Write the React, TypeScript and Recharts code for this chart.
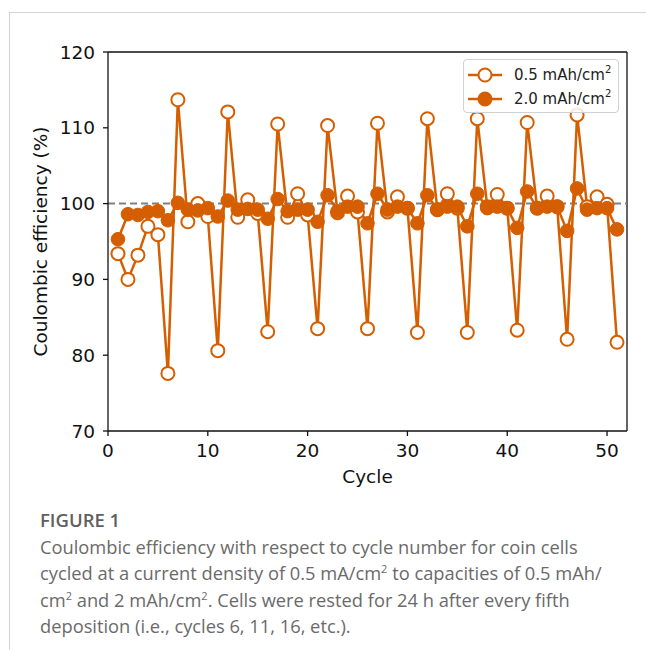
import React from "react";
import {
  LineChart,
  Line,
  XAxis,
  YAxis,
  ReferenceLine,
  Legend,
} from "recharts";

const ORANGE = "#d55e00";

const cycles = [
  1, 2, 3, 4, 5, 6, 7, 8, 9, 10, 11, 12, 13, 14, 15, 16, 17, 18, 19, 20, 21, 22,
  23, 24, 25, 26, 27, 28, 29, 30, 31, 32, 33, 34, 35, 36, 37, 38, 39, 40, 41,
  42, 43, 44, 45, 46, 47, 48, 49, 50, 51,
];

// 0.5 mAh/cm2 (open markers)
const ceLow = [
  93.4, 90.0, 93.2, 97.0, 95.9, 77.6, 113.7, 97.6, 100.0, 98.3, 80.6, 112.1,
  98.2, 100.5, 98.7, 83.1, 110.5, 98.2, 101.3, 98.5, 83.5, 110.3, 98.8, 101.0,
  98.9, 83.5, 110.6, 98.9, 100.9, 99.4, 83.0, 111.2, 99.2, 101.3, 99.4, 83.0,
  111.2, 99.6, 101.2, 99.4, 83.3, 110.7, 99.4, 101.0, 99.6, 82.1, 111.7, 99.6,
  100.9, 99.9, 81.7,
];

// 2.0 mAh/cm2 (filled markers)
const ceHigh = [
  95.3, 98.6, 98.5, 98.9, 99.0, 97.8, 100.1, 99.2, 99.1, 99.4, 98.3, 100.4,
  99.2, 99.3, 99.2, 98.0, 100.6, 99.0, 99.2, 99.2, 97.6, 101.1, 99.0, 99.6,
  99.6, 97.4, 101.3, 99.2, 99.6, 99.4, 97.4, 101.1, 99.2, 99.6, 99.6, 97.0,
  101.3, 99.4, 99.6, 99.4, 96.8, 101.6, 99.4, 99.6, 99.6, 96.4, 102.0, 99.2,
  99.4, 99.4, 96.6,
];

const xTicks = [0, 10, 20, 30, 40, 50];
const yTicks = [70, 80, 90, 100, 110, 120];
const xMax = 52;
const yMin = 70;
const yMax = 120;

const legendNames = ["0.5 mAh/cm", "2.0 mAh/cm"];

const data = cycles.map((c, i) => ({ cycle: c, low: ceLow[i], high: ceHigh[i] }));

const FONT = "DejaVu Sans";
const CAPTION_FONT = "Open Sans";
const FS = 18.5;

function LegendBox() {
  return (
    <div
      style={{
        border: "1px solid #d0d0d0",
        borderRadius: 4,
        background: "rgba(255,255,255,0.85)",
        width: 156,
        height: 54,
        boxSizing: "border-box",
        paddingTop: 3,
        fontFamily: FONT,
        fontSize: 15,
        color: "#222",
      }}
    >
      {legendNames.map((name, i) => (
        <div
          key={name}
          style={{ display: "flex", alignItems: "center", height: 24 }}
        >
          <svg width={42} height={20} style={{ marginLeft: 4 }}>
            <line x1={0} y1={10} x2={34} y2={10} stroke={ORANGE} strokeWidth={2.5} />
            <circle
              cx={17}
              cy={10}
              r={6.5}
              fill={i === 0 ? "#fff" : ORANGE}
              stroke={ORANGE}
              strokeWidth={2}
            />
          </svg>
          <span style={{ marginLeft: 4 }}>
            {name}
            <sup style={{ fontSize: 10, verticalAlign: "7px", lineHeight: 0 }}>2</sup>
          </span>
        </div>
      ))}
    </div>
  );
}

function YLabel(props: any) {
  const vb = props.viewBox || { x: 0, y: 0, width: 0, height: 0 };
  const cy = vb.y + vb.height / 2;
  const cx = 40;
  return (
    <text
      x={cx}
      y={cy}
      transform={`rotate(-90 ${cx} ${cy})`}
      textAnchor="middle"
      dominantBaseline="central"
      fontFamily={FONT}
      fontSize={FS}
      fill="#111"
    >
      Coulombic efficiency (%)
    </text>
  );
}

const sup = { fontSize: 11, lineHeight: 0 };

export default function App() {
  return (
    <div
      style={{
        position: "absolute",
        left: 0,
        top: 0,
        width: 646,
        height: 650,
        background: "#fff",
        overflow: "hidden",
      }}
    >
      <div
        style={{
          position: "absolute",
          left: 9,
          top: 12,
          width: 646,
          height: 660,
          borderTop: "1px solid #d4d4d4",
          borderLeft: "1px solid #d4d4d4",
        }}
      />
      <div style={{ position: "absolute", left: 0, top: 0, fontFamily: FONT }}>
        <LineChart
          width={646}
          height={490}
          data={data}
          margin={{ top: 52, right: 19, left: 48, bottom: 29 }}
        >
          <XAxis
            type="number"
            dataKey="cycle"
            domain={[0, xMax]}
            ticks={xTicks}
            allowDataOverflow
            height={30}
            stroke="#111"
            strokeWidth={1.3}
            tickSize={5}
            tick={{ fill: "#111", fontSize: FS, fontFamily: FONT }}
            tickMargin={8}
            label={{
              value: "Cycle",
              position: "bottom",
              offset: 9,
              fill: "#111",
              fontSize: FS,
              fontFamily: FONT,
            }}
          />
          <YAxis
            type="number"
            domain={[yMin, yMax]}
            ticks={yTicks}
            allowDataOverflow
            width={60}
            stroke="#111"
            strokeWidth={1.3}
            tickSize={5}
            tickMargin={8}
            tick={{ fill: "#111", fontSize: FS, fontFamily: FONT }}
            label={<YLabel />}
          />
          {/* top and right spines */}
          <ReferenceLine y={yMax} stroke="#111" strokeWidth={1.3} />
          <ReferenceLine x={xMax} stroke="#111" strokeWidth={1.3} />
          <ReferenceLine
            y={100}
            stroke="#808080"
            strokeWidth={2}
            strokeDasharray="7 4"
          />
          <Line
            dataKey="low"
            name="0.5 mAh/cm2"
            stroke={ORANGE}
            strokeWidth={2.5}
            dot={{ r: 6.5, fill: "#fff", stroke: ORANGE, strokeWidth: 2 }}
            activeDot={false}
            isAnimationActive={false}
          />
          <Line
            dataKey="high"
            name="2.0 mAh/cm2"
            stroke={ORANGE}
            strokeWidth={2.5}
            dot={{ r: 6.8, fill: ORANGE, stroke: ORANGE, strokeWidth: 1 }}
            activeDot={false}
            isAnimationActive={false}
          />
          <Legend
            layout="vertical"
            align="center"
            verticalAlign="middle"
            content={() => <LegendBox />}
            wrapperStyle={{ position: "absolute", left: 463, top: 59, width: 157, height: 55 }}
          />
        </LineChart>
      </div>
      <div
        style={{
          position: "absolute",
          left: 40,
          top: 506,
          width: 606,
          fontFamily: CAPTION_FONT,
          color: "#6a6a6a",
        }}
      >
        <div style={{ fontSize: 18.5, fontWeight: 600, color: "#5f5f5f", lineHeight: "28px" }}>
          FIGURE 1
        </div>
        <div style={{ fontSize: 18.3, lineHeight: "26.3px", whiteSpace: "nowrap" }}>
          Coulombic efficiency with respect to cycle number for coin cells
          <br />
          cycled at a current density of 0.5 mA/cm<sup style={sup}>2</sup> to capacities of 0.5 mAh/
          <br />
          cm<sup style={sup}>2</sup> and 2 mAh/cm<sup style={sup}>2</sup>. Cells were rested for 24 h after every fifth
          <br />
          deposition (i.e., cycles 6, 11, 16, etc.).
        </div>
      </div>
    </div>
  );
}
